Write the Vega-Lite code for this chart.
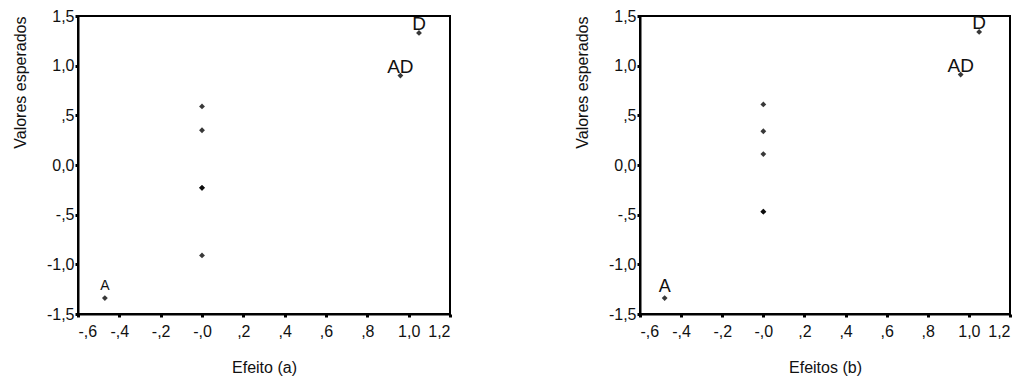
{
  "$schema": "https://vega.github.io/schema/vega-lite/v6.json",
  "background": "white",
  "padding": {"left": 11, "top": 7, "right": 0, "bottom": 0},
  "config": {
    "font": "Liberation Sans",
    "view": {"stroke": "black", "strokeWidth": 2},
    "axis": {
      "grid": false,
      "domainColor": "black",
      "domainWidth": 2,
      "tickColor": "black",
      "tickWidth": 3,
      "tickSize": 3,
      "labelFont": "Liberation Sans",
      "labelColor": "#111",
      "titleFont": "Liberation Sans",
      "titleFontSize": 16,
      "titleFontWeight": "normal",
      "titleColor": "#111",
      "labelOverlap": false
    }
  },
  "datasets": {
    "a": [
      {"efeito": -0.47, "esperado": -1.34, "rotulo": "A"},
      {"efeito": 0.0, "esperado": -0.91, "rotulo": ""},
      {"efeito": 0.0, "esperado": -0.23, "rotulo": ""},
      {"efeito": 0.0, "esperado": -0.23, "rotulo": ""},
      {"efeito": 0.0, "esperado": 0.35, "rotulo": ""},
      {"efeito": 0.0, "esperado": 0.59, "rotulo": ""},
      {"efeito": 0.96, "esperado": 0.9, "rotulo": "AD"},
      {"efeito": 1.05, "esperado": 1.33, "rotulo": "D"}
    ],
    "b": [
      {"efeito": -0.48, "esperado": -1.34, "rotulo": "A"},
      {"efeito": 0.0, "esperado": -0.47, "rotulo": ""},
      {"efeito": 0.0, "esperado": -0.47, "rotulo": ""},
      {"efeito": 0.0, "esperado": 0.11, "rotulo": ""},
      {"efeito": 0.0, "esperado": 0.34, "rotulo": ""},
      {"efeito": 0.0, "esperado": 0.61, "rotulo": ""},
      {"efeito": 0.96, "esperado": 0.91, "rotulo": "AD"},
      {"efeito": 1.05, "esperado": 1.34, "rotulo": "D"}
    ]
  },
  "spacing": 120,
  "hconcat": [
    {
      "width": 372,
      "height": 298,
      "data": {"name": "a"},
      "encoding": {
        "x": {"field": "efeito", "type": "quantitative",
          "scale": {"domain": [-0.6, 1.2], "nice": false, "zero": false},
          "axis": {"title": "Efeito (a)", "values": [-0.6, -0.4, -0.2, 0, 0.2, 0.4, 0.6, 0.8, 1.0, 1.2],
            "labelExpr": "datum.value == 0 ? '-,0' : replace(replace(replace(format(datum.value, '.1f'), '\u2212', '-'), '0.', '.'), '.', ',')",
            "labelFontSize": 16, "labelPadding": 6, "titlePadding": 20}},
        "y": {"field": "esperado", "type": "quantitative",
          "scale": {"domain": [-1.5, 1.5], "nice": false, "zero": false},
          "axis": {"title": "Valores esperados", "values": [-1.5, -1.0, -0.5, 0, 0.5, 1.0, 1.5],
            "labelExpr": "datum.value == 0 ? '0,0' : replace(replace(replace(format(datum.value, '.1f'), '\u2212', '-'), '0.', '.'), '.', ',')",
            "labelFontSize": 16, "labelPadding": 1, "titlePadding": 18, "titleAnchor": "end"}}
      },
      "layer": [
        {"mark": {"type": "point", "shape": "diamond", "filled": true, "color": "black", "opacity": 0.78, "size": 34}},
        {"transform": [{"filter": "datum.rotulo == 'A'"}],
         "mark": {"type": "text", "fontSize": 14, "dy": -8, "baseline": "alphabetic", "color": "#111"},
         "encoding": {"text": {"field": "rotulo"}}},
        {"transform": [{"filter": "datum.rotulo == 'D' || datum.rotulo == 'AD'"}],
         "mark": {"type": "text", "fontSize": 19, "dy": -3, "baseline": "alphabetic", "color": "#111"},
         "encoding": {"text": {"field": "rotulo"}}}
      ]
    },
    {
      "width": 370,
      "height": 298,
      "data": {"name": "b"},
      "encoding": {
        "x": {"field": "efeito", "type": "quantitative",
          "scale": {"domain": [-0.6, 1.2], "nice": false, "zero": false},
          "axis": {"title": "Efeitos (b)", "values": [-0.6, -0.4, -0.2, 0, 0.2, 0.4, 0.6, 0.8, 1.0, 1.2],
            "labelExpr": "datum.value == 0 ? '-,0' : replace(replace(replace(format(datum.value, '.1f'), '\u2212', '-'), '0.', '.'), '.', ',')",
            "labelFontSize": 16, "labelPadding": 6, "titlePadding": 20}},
        "y": {"field": "esperado", "type": "quantitative",
          "scale": {"domain": [-1.5, 1.5], "nice": false, "zero": false},
          "axis": {"title": "Valores esperados", "values": [-1.5, -1.0, -0.5, 0, 0.5, 1.0, 1.5],
            "labelExpr": "datum.value == 0 ? '0,0' : replace(replace(replace(format(datum.value, '.1f'), '\u2212', '-'), '0.', '.'), '.', ',')",
            "labelFontSize": 16, "labelPadding": 1, "titlePadding": 18, "titleAnchor": "end"}}
      },
      "layer": [
        {"mark": {"type": "point", "shape": "diamond", "filled": true, "color": "black", "opacity": 0.78, "size": 34}},
        {"transform": [{"filter": "datum.rotulo == 'A'"}],
         "mark": {"type": "text", "fontSize": 18, "dy": -6, "baseline": "alphabetic", "color": "#111"},
         "encoding": {"text": {"field": "rotulo"}}},
        {"transform": [{"filter": "datum.rotulo == 'D' || datum.rotulo == 'AD'"}],
         "mark": {"type": "text", "fontSize": 19, "dy": -3, "baseline": "alphabetic", "color": "#111"},
         "encoding": {"text": {"field": "rotulo"}}}
      ]
    }
  ]
}
